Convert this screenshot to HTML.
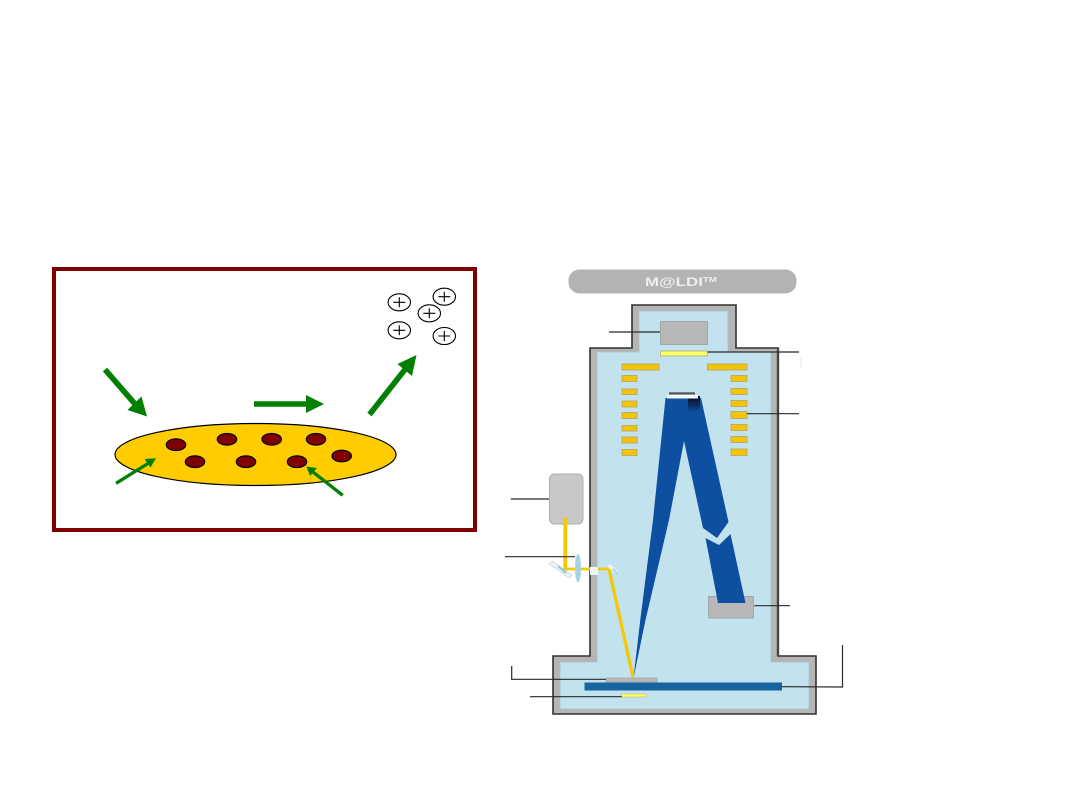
<!DOCTYPE html>
<html>
<head>
<meta charset="utf-8">
<style>
html,body{margin:0;padding:0;background:#fff;width:1080px;height:810px;overflow:hidden}
svg{display:block}
</style>
</head>
<body>
<svg width="1080" height="810" viewBox="0 0 1080 810" xmlns="http://www.w3.org/2000/svg">
<defs>
<filter id="b" x="-5%" y="-5%" width="110%" height="110%"><feGaussianBlur stdDeviation="0.3"/></filter>
<filter id="b2" x="-5%" y="-5%" width="110%" height="110%"><feGaussianBlur stdDeviation="0.25"/></filter>
<linearGradient id="sp" x1="0" y1="0" x2="0" y2="1"><stop offset="0" stop-color="#050a18"/><stop offset="0.55" stop-color="#0a2a60"/><stop offset="1" stop-color="#0a4fa0"/></linearGradient>
</defs>

<g filter="url(#b2)">
<rect x="54" y="269" width="421" height="261" fill="#fff" stroke="#800000" stroke-width="4"/>
<ellipse cx="255.5" cy="454.5" rx="140.5" ry="31" fill="#ffcc00" stroke="#000" stroke-width="1.2"/>
<g fill="#800000" stroke="#000" stroke-width="1.2">
<ellipse cx="176" cy="444.7" rx="9.7" ry="5.8"/>
<ellipse cx="227" cy="439.3" rx="9.7" ry="5.8"/>
<ellipse cx="271.7" cy="439.3" rx="9.7" ry="5.8"/>
<ellipse cx="316" cy="439.3" rx="9.7" ry="5.8"/>
<ellipse cx="341.7" cy="456" rx="9.7" ry="5.8"/>
<ellipse cx="195" cy="461.7" rx="9.7" ry="5.8"/>
<ellipse cx="246" cy="461.7" rx="9.7" ry="5.8"/>
<ellipse cx="297" cy="461.7" rx="9.7" ry="5.8"/>
</g>
<g fill="#fff" stroke="#000" stroke-width="1.1">
<ellipse cx="399.3" cy="302.3" rx="11.2" ry="8.5"/>
<ellipse cx="444.3" cy="296.7" rx="11.2" ry="8.5"/>
<ellipse cx="429.3" cy="313.3" rx="11.2" ry="8.5"/>
<ellipse cx="399.3" cy="330.3" rx="11.2" ry="8.5"/>
<ellipse cx="444.3" cy="336" rx="11.2" ry="8.5"/>
<path d="M393.3 302.3h12M399.3 297.3v10M438.3 296.7h12M444.3 291.7v10M423.3 313.3h12M429.3 308.3v10M393.3 330.3h12M399.3 325.3v10M438.3 336h12M444.3 331v10" fill="none"/>
</g>
<g fill="#008000" stroke="#008000">
<line x1="105" y1="369.5" x2="135" y2="404" stroke-width="5.6"/>
<polygon points="147,416.5 127.5,410 141.5,396.5" stroke="none"/>
<line x1="254" y1="404" x2="307" y2="404" stroke-width="5.6"/>
<polygon points="324,404 306,395 306,413" stroke="none"/>
<line x1="369.5" y1="414.5" x2="405" y2="369.5" stroke-width="5.6"/>
<polygon points="416.5,355 397.5,364 412,376" stroke="none"/>
<line x1="116" y1="483.3" x2="148" y2="463.5" stroke-width="3.3"/>
<polygon points="156,458.3 144.5,459 150.5,467.5" stroke="none"/>
<line x1="342.7" y1="495.3" x2="313" y2="472" stroke-width="3.3"/>
<polygon points="306.5,466.5 310,476 317,468" stroke="none"/>
</g>
</g>

<g filter="url(#b)">
<rect x="568.5" y="269.5" width="228" height="24" rx="11" fill="#b3b3b3"/>
<text x="645" y="286" font-family="'Liberation Sans',sans-serif" font-weight="bold" font-size="12" fill="#eeeeee" textLength="58" lengthAdjust="spacingAndGlyphs">M@LDI</text>
<text x="703" y="282" font-family="'Liberation Sans',sans-serif" font-weight="bold" font-size="7" fill="#eeeeee" textLength="14" lengthAdjust="spacingAndGlyphs">TM</text>

<polygon points="632,305 736,305 736,348 778,348 778,656 816,656 816,714 553,714 553,656 590,656 590,348 632,348" fill="#b5b5b5" stroke="#333" stroke-width="1.6"/>
<polygon points="639,311 728,311 728,352 771,352 771,662 809,662 809,709 560,709 560,662 597,662 597,352 639,352" fill="#c2e3ee" stroke="#a5c3cc" stroke-width="0.8"/>
<line x1="778" y1="348" x2="778" y2="656" stroke="#444" stroke-width="2.4"/>

<rect x="660.5" y="321.5" width="47" height="23" fill="#b8b8b8" stroke="#9fa7aa"/>
<rect x="660.5" y="351" width="47" height="5" fill="#ffff66" stroke="#b9b98a"/>

<g fill="#f5c400" stroke="#b9ad70" stroke-width="1">
<rect x="622" y="364" width="37" height="6"/>
<rect x="707.5" y="364" width="39.5" height="6"/>
<rect x="622" y="375.5" width="15" height="6"/>
<rect x="622" y="389" width="15" height="5.5"/>
<rect x="622" y="401" width="15" height="6"/>
<rect x="622" y="412.5" width="15" height="6"/>
<rect x="622" y="425.5" width="15" height="5.5"/>
<rect x="622" y="437" width="15" height="6"/>
<rect x="622" y="449.5" width="15" height="6"/>
<rect x="731" y="375.5" width="16" height="6"/>
<rect x="731" y="388.5" width="16" height="6"/>
<rect x="731" y="400.5" width="16" height="6"/>
<rect x="731" y="411.5" width="16" height="7"/>
<rect x="731" y="424.5" width="16" height="6"/>
<rect x="731" y="436.5" width="16" height="6"/>
<rect x="731" y="449" width="16" height="6.5"/>
</g>

<rect x="708.5" y="596.5" width="45" height="21.5" fill="#b8b8b8" stroke="#9fa7aa"/>

<polygon points="665.5,398 701,398 728.5,522 717,538 703,528 684,441 669,520 645.5,620 633.5,678 640.5,618 653,520" fill="#0a4fa0"/>
<polygon points="705.5,538 719,545 730.5,534 745.5,603 718,603" fill="#0a4fa0"/>
<rect x="688" y="396" width="12" height="16" fill="url(#sp)"/>
<rect x="667" y="395" width="31" height="3.5" fill="#f2f6f8"/>
<rect x="669" y="392.3" width="26" height="2.2" fill="#555"/>

<rect x="549.5" y="474" width="33.5" height="50" rx="5" fill="#c8c8c8" stroke="#a8b0b4"/>
<line x1="565.3" y1="518" x2="565.3" y2="570" stroke="#f5c800" stroke-width="3.8"/>
<line x1="564" y1="569" x2="608.5" y2="569" stroke="#f5c800" stroke-width="2.8"/>
<line x1="609" y1="569" x2="633" y2="677" stroke="#f5c800" stroke-width="3.2"/>
<polygon points="552,561 572,575 569.5,578 549,564" fill="#eaf3f6" stroke="#b5ccd6" stroke-width="0.6"/>
<line x1="558" y1="566" x2="566" y2="573" stroke="#8fc3de" stroke-width="2"/>
<ellipse cx="578" cy="568.3" rx="2.8" ry="14" fill="#a8d2e2" stroke="#b9d5df" stroke-width="0.5"/>
<rect x="590" y="567" width="8" height="8" fill="#eef6f8"/>
<polygon points="607,566 610,564 619,572 616,574" fill="#eaf3f6"/>
<line x1="613" y1="569" x2="618" y2="574" stroke="#a8d2e2" stroke-width="2"/>

<rect x="606" y="678" width="51" height="4" fill="#b8b8b8" stroke="#9a9a9a" stroke-width="0.6"/>
<rect x="584.5" y="682.5" width="197.5" height="8" fill="#1464a0"/>
<rect x="621.7" y="694" width="24.5" height="3" fill="#ffff55" stroke="#b9b98a" stroke-width="0.6"/>

<g fill="none" stroke="#2a2a2a" stroke-width="1.2">
<line x1="609" y1="332" x2="660" y2="332"/>
<line x1="707.5" y1="352" x2="799" y2="352"/>
<line x1="747" y1="413.7" x2="799" y2="413.7"/>
<line x1="510.7" y1="499" x2="549" y2="499"/>
<line x1="505" y1="556.7" x2="575" y2="556.7"/>
<line x1="754.3" y1="605.7" x2="790" y2="605.7"/>
<polyline points="511.7,666 511.7,679.3 606,679.3"/>
<line x1="530" y1="696.7" x2="621.7" y2="696.7"/>
<polyline points="782,686.7 842.5,687 842.5,645"/>
</g>
<line x1="801" y1="358" x2="801" y2="367" stroke="#e4e4e4" stroke-width="1"/>
</g>
</svg>
</body>
</html>
